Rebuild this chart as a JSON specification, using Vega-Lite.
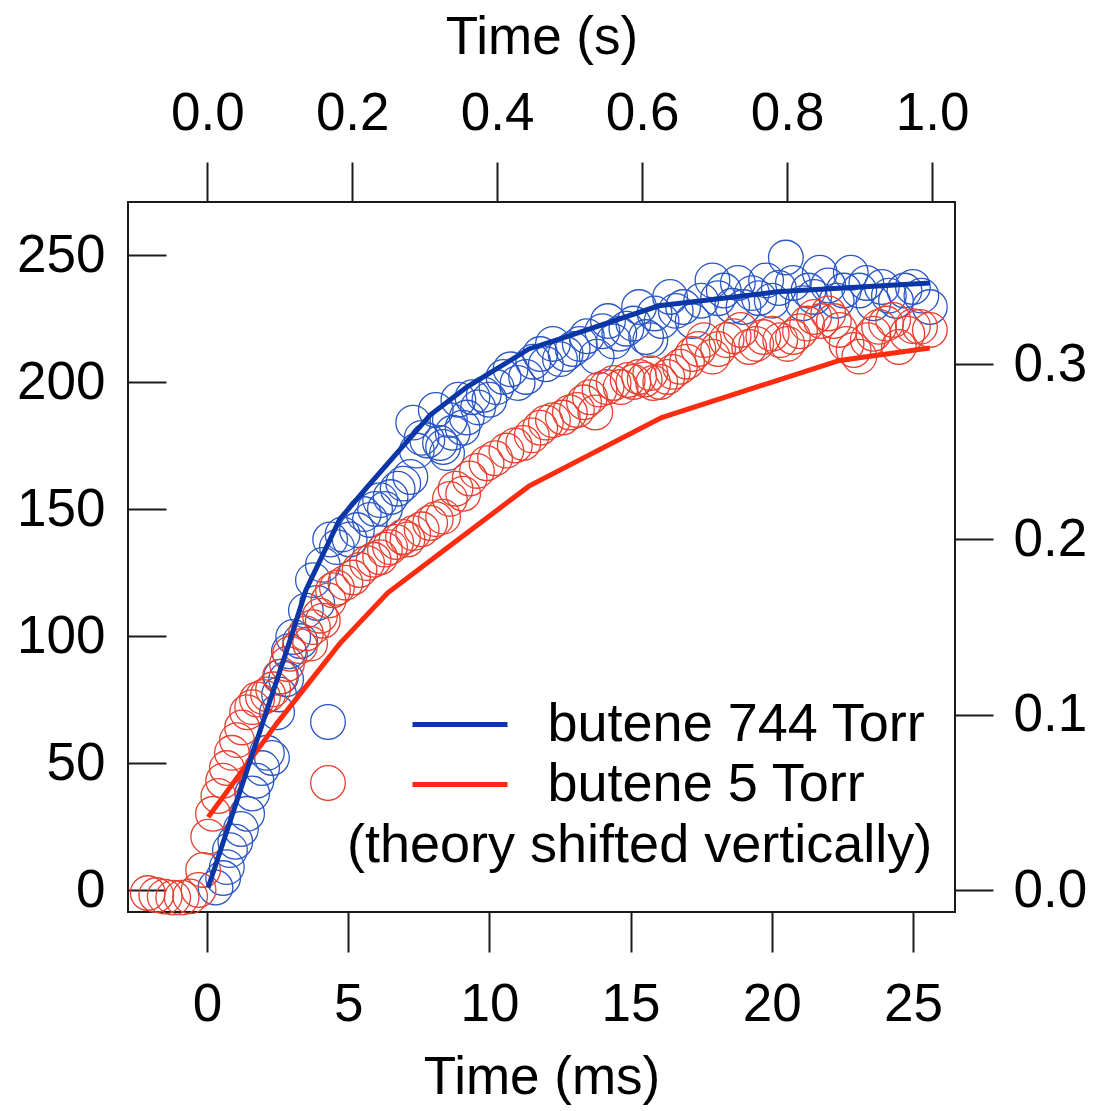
{
  "$schema": "https://vega.github.io/schema/vega-lite/v6.json",
  "width": 827,
  "height": 710,
  "autosize": {"type": "none"},
  "padding": {"left": 128, "top": 202, "right": 140, "bottom": 199},
  "background": "white",
  "config": {
    "font": "Liberation Sans",
    "view": {"stroke": "#1a1a1a", "strokeWidth": 2},
    "axis": {
      "labelFont": "Liberation Sans", "titleFont": "Liberation Sans",
      "labelFontSize": 53, "titleFontSize": 53,
      "labelColor": "#000000", "titleColor": "#000000", "titleFontWeight": "normal",
      "domain": false, "tickColor": "#1a1a1a", "tickWidth": 2,
      "grid": false, "labelFlush": false, "labelOverlap": false
    },
    "legend": {
      "labelFont": "Liberation Sans", "titleFont": "Liberation Sans",
      "labelFontSize": 54, "titleFontSize": 54, "labelColor": "#000000", "titleColor": "#000000",
      "titleFontWeight": "normal", "padding": 0, "labelLimit": 1000, "titleLimit": 1000
    }
  },
  "datasets": {
    "points": [
      {"series": "butene 744 Torr", "t": 0.3, "v": 1},
      {"series": "butene 744 Torr", "t": 0.57, "v": 4.7},
      {"series": "butene 744 Torr", "t": 0.7, "v": 9},
      {"series": "butene 744 Torr", "t": 0.81, "v": 15.7},
      {"series": "butene 744 Torr", "t": 1.0, "v": 19},
      {"series": "butene 744 Torr", "t": 1.2, "v": 24},
      {"series": "butene 744 Torr", "t": 1.42, "v": 30},
      {"series": "butene 744 Torr", "t": 1.6, "v": 38},
      {"series": "butene 744 Torr", "t": 1.75, "v": 43},
      {"series": "butene 744 Torr", "t": 1.95, "v": 48},
      {"series": "butene 744 Torr", "t": 2.12, "v": 54},
      {"series": "butene 744 Torr", "t": 2.3, "v": 52},
      {"series": "butene 744 Torr", "t": 2.48, "v": 70},
      {"series": "butene 744 Torr", "t": 2.55, "v": 77},
      {"series": "butene 744 Torr", "t": 2.62, "v": 84},
      {"series": "butene 744 Torr", "t": 2.8, "v": 83},
      {"series": "butene 744 Torr", "t": 2.9, "v": 94},
      {"series": "butene 744 Torr", "t": 3.05, "v": 99.6},
      {"series": "butene 744 Torr", "t": 3.3, "v": 98},
      {"series": "butene 744 Torr", "t": 3.5, "v": 110},
      {"series": "butene 744 Torr", "t": 3.75, "v": 122},
      {"series": "butene 744 Torr", "t": 3.9, "v": 113},
      {"series": "butene 744 Torr", "t": 4.1, "v": 128},
      {"series": "butene 744 Torr", "t": 4.36, "v": 138},
      {"series": "butene 744 Torr", "t": 4.6, "v": 135},
      {"series": "butene 744 Torr", "t": 4.8, "v": 140},
      {"series": "butene 744 Torr", "t": 5.05, "v": 138},
      {"series": "butene 744 Torr", "t": 5.31, "v": 141.7},
      {"series": "butene 744 Torr", "t": 5.55, "v": 148},
      {"series": "butene 744 Torr", "t": 5.77, "v": 145.7},
      {"series": "butene 744 Torr", "t": 5.95, "v": 150},
      {"series": "butene 744 Torr", "t": 6.13, "v": 153.5},
      {"series": "butene 744 Torr", "t": 6.3, "v": 150},
      {"series": "butene 744 Torr", "t": 6.5, "v": 154.7},
      {"series": "butene 744 Torr", "t": 6.75, "v": 158},
      {"series": "butene 744 Torr", "t": 6.95, "v": 160},
      {"series": "butene 744 Torr", "t": 7.2, "v": 162.6},
      {"series": "butene 744 Torr", "t": 7.3, "v": 184},
      {"series": "butene 744 Torr", "t": 7.43, "v": 173},
      {"series": "butene 744 Torr", "t": 7.6, "v": 178},
      {"series": "butene 744 Torr", "t": 7.8, "v": 177},
      {"series": "butene 744 Torr", "t": 8.1, "v": 189},
      {"series": "butene 744 Torr", "t": 8.25, "v": 176},
      {"series": "butene 744 Torr", "t": 8.36, "v": 174.4},
      {"series": "butene 744 Torr", "t": 8.5, "v": 172},
      {"series": "butene 744 Torr", "t": 8.6, "v": 185},
      {"series": "butene 744 Torr", "t": 8.7, "v": 180},
      {"series": "butene 744 Torr", "t": 8.9, "v": 193},
      {"series": "butene 744 Torr", "t": 9.05, "v": 182},
      {"series": "butene 744 Torr", "t": 9.2, "v": 186},
      {"series": "butene 744 Torr", "t": 9.4, "v": 194},
      {"series": "butene 744 Torr", "t": 9.6, "v": 190},
      {"series": "butene 744 Torr", "t": 9.8, "v": 195},
      {"series": "butene 744 Torr", "t": 10.0, "v": 193},
      {"series": "butene 744 Torr", "t": 10.25, "v": 198},
      {"series": "butene 744 Torr", "t": 10.5, "v": 202},
      {"series": "butene 744 Torr", "t": 10.75, "v": 205},
      {"series": "butene 744 Torr", "t": 11.0, "v": 199.6},
      {"series": "butene 744 Torr", "t": 11.3, "v": 202},
      {"series": "butene 744 Torr", "t": 11.55, "v": 208},
      {"series": "butene 744 Torr", "t": 11.8, "v": 211},
      {"series": "butene 744 Torr", "t": 12.0, "v": 207},
      {"series": "butene 744 Torr", "t": 12.25, "v": 215},
      {"series": "butene 744 Torr", "t": 12.5, "v": 209},
      {"series": "butene 744 Torr", "t": 12.7, "v": 211},
      {"series": "butene 744 Torr", "t": 12.95, "v": 213},
      {"series": "butene 744 Torr", "t": 13.2, "v": 215},
      {"series": "butene 744 Torr", "t": 13.45, "v": 218},
      {"series": "butene 744 Torr", "t": 13.8, "v": 210},
      {"series": "butene 744 Torr", "t": 14.0, "v": 220},
      {"series": "butene 744 Torr", "t": 14.2, "v": 224},
      {"series": "butene 744 Torr", "t": 14.4, "v": 216},
      {"series": "butene 744 Torr", "t": 14.6, "v": 219},
      {"series": "butene 744 Torr", "t": 14.85, "v": 221},
      {"series": "butene 744 Torr", "t": 15.1, "v": 223},
      {"series": "butene 744 Torr", "t": 15.3, "v": 229.5},
      {"series": "butene 744 Torr", "t": 15.55, "v": 217.7},
      {"series": "butene 744 Torr", "t": 15.7, "v": 216.5},
      {"series": "butene 744 Torr", "t": 15.85, "v": 227},
      {"series": "butene 744 Torr", "t": 16.1, "v": 224},
      {"series": "butene 744 Torr", "t": 16.4, "v": 233.5},
      {"series": "butene 744 Torr", "t": 16.6, "v": 228},
      {"series": "butene 744 Torr", "t": 16.86, "v": 229.5},
      {"series": "butene 744 Torr", "t": 17.2, "v": 224},
      {"series": "butene 744 Torr", "t": 17.5, "v": 232},
      {"series": "butene 744 Torr", "t": 17.9, "v": 240},
      {"series": "butene 744 Torr", "t": 18.1, "v": 233},
      {"series": "butene 744 Torr", "t": 18.3, "v": 236},
      {"series": "butene 744 Torr", "t": 18.6, "v": 230},
      {"series": "butene 744 Torr", "t": 18.8, "v": 239},
      {"series": "butene 744 Torr", "t": 19.0, "v": 229.5},
      {"series": "butene 744 Torr", "t": 19.3, "v": 235},
      {"series": "butene 744 Torr", "t": 19.55, "v": 233},
      {"series": "butene 744 Torr", "t": 19.8, "v": 240},
      {"series": "butene 744 Torr", "t": 20.0, "v": 232},
      {"series": "butene 744 Torr", "t": 20.25, "v": 237},
      {"series": "butene 744 Torr", "t": 20.5, "v": 249},
      {"series": "butene 744 Torr", "t": 20.75, "v": 239},
      {"series": "butene 744 Torr", "t": 21.1, "v": 231},
      {"series": "butene 744 Torr", "t": 21.3, "v": 236},
      {"series": "butene 744 Torr", "t": 21.5, "v": 233.5},
      {"series": "butene 744 Torr", "t": 21.7, "v": 243},
      {"series": "butene 744 Torr", "t": 22.0, "v": 238},
      {"series": "butene 744 Torr", "t": 22.3, "v": 232},
      {"series": "butene 744 Torr", "t": 22.55, "v": 236},
      {"series": "butene 744 Torr", "t": 22.8, "v": 243},
      {"series": "butene 744 Torr", "t": 23.1, "v": 236},
      {"series": "butene 744 Torr", "t": 23.35, "v": 239},
      {"series": "butene 744 Torr", "t": 23.6, "v": 231},
      {"series": "butene 744 Torr", "t": 23.9, "v": 237.4},
      {"series": "butene 744 Torr", "t": 24.15, "v": 234},
      {"series": "butene 744 Torr", "t": 24.4, "v": 232},
      {"series": "butene 744 Torr", "t": 24.7, "v": 236},
      {"series": "butene 744 Torr", "t": 25.0, "v": 237.4},
      {"series": "butene 744 Torr", "t": 25.3, "v": 234},
      {"series": "butene 744 Torr", "t": 25.6, "v": 229.5},
      {"series": "butene 5 Torr", "t": -2.1, "v": -1.2},
      {"series": "butene 5 Torr", "t": -1.8, "v": -2},
      {"series": "butene 5 Torr", "t": -1.5, "v": -2.6},
      {"series": "butene 5 Torr", "t": -1.2, "v": -3},
      {"series": "butene 5 Torr", "t": -0.9, "v": -3},
      {"series": "butene 5 Torr", "t": -0.6, "v": -2.5},
      {"series": "butene 5 Torr", "t": -0.3, "v": 0},
      {"series": "butene 5 Torr", "t": -0.14, "v": 7.9},
      {"series": "butene 5 Torr", "t": 0.04, "v": 21},
      {"series": "butene 5 Torr", "t": 0.21, "v": 30},
      {"series": "butene 5 Torr", "t": 0.4, "v": 37},
      {"series": "butene 5 Torr", "t": 0.57, "v": 43},
      {"series": "butene 5 Torr", "t": 0.7, "v": 48},
      {"series": "butene 5 Torr", "t": 0.88, "v": 54},
      {"series": "butene 5 Torr", "t": 1.06, "v": 59},
      {"series": "butene 5 Torr", "t": 1.24, "v": 64},
      {"series": "butene 5 Torr", "t": 1.42, "v": 70},
      {"series": "butene 5 Torr", "t": 1.6, "v": 72},
      {"series": "butene 5 Torr", "t": 1.77, "v": 75},
      {"series": "butene 5 Torr", "t": 1.98, "v": 76},
      {"series": "butene 5 Torr", "t": 2.16, "v": 77},
      {"series": "butene 5 Torr", "t": 2.34, "v": 79},
      {"series": "butene 5 Torr", "t": 2.58, "v": 84},
      {"series": "butene 5 Torr", "t": 2.83, "v": 89},
      {"series": "butene 5 Torr", "t": 2.94, "v": 93},
      {"series": "butene 5 Torr", "t": 3.29, "v": 96},
      {"series": "butene 5 Torr", "t": 3.5, "v": 101},
      {"series": "butene 5 Torr", "t": 3.65, "v": 97},
      {"series": "butene 5 Torr", "t": 3.75, "v": 103.5},
      {"series": "butene 5 Torr", "t": 4.0, "v": 108},
      {"series": "butene 5 Torr", "t": 4.1, "v": 106},
      {"series": "butene 5 Torr", "t": 4.3, "v": 114},
      {"series": "butene 5 Torr", "t": 4.46, "v": 118},
      {"series": "butene 5 Torr", "t": 4.6, "v": 119},
      {"series": "butene 5 Torr", "t": 4.9, "v": 121},
      {"series": "butene 5 Torr", "t": 5.17, "v": 123},
      {"series": "butene 5 Torr", "t": 5.4, "v": 126},
      {"series": "butene 5 Torr", "t": 5.67, "v": 128.7},
      {"series": "butene 5 Torr", "t": 5.9, "v": 130},
      {"series": "butene 5 Torr", "t": 6.13, "v": 131},
      {"series": "butene 5 Torr", "t": 6.3, "v": 134},
      {"series": "butene 5 Torr", "t": 6.48, "v": 135},
      {"series": "butene 5 Torr", "t": 6.7, "v": 137},
      {"series": "butene 5 Torr", "t": 6.94, "v": 139},
      {"series": "butene 5 Torr", "t": 7.1, "v": 138},
      {"series": "butene 5 Torr", "t": 7.3, "v": 140.5},
      {"series": "butene 5 Torr", "t": 7.6, "v": 142},
      {"series": "butene 5 Torr", "t": 7.9, "v": 144.5},
      {"series": "butene 5 Torr", "t": 8.1, "v": 146},
      {"series": "butene 5 Torr", "t": 8.36, "v": 147},
      {"series": "butene 5 Torr", "t": 8.6, "v": 154},
      {"series": "butene 5 Torr", "t": 8.8, "v": 158},
      {"series": "butene 5 Torr", "t": 9.07, "v": 156},
      {"series": "butene 5 Torr", "t": 9.3, "v": 162},
      {"series": "butene 5 Torr", "t": 9.56, "v": 165},
      {"series": "butene 5 Torr", "t": 9.9, "v": 168},
      {"series": "butene 5 Torr", "t": 10.2, "v": 170},
      {"series": "butene 5 Torr", "t": 10.6, "v": 173},
      {"series": "butene 5 Torr", "t": 10.9, "v": 175},
      {"series": "butene 5 Torr", "t": 11.2, "v": 176},
      {"series": "butene 5 Torr", "t": 11.5, "v": 179},
      {"series": "butene 5 Torr", "t": 11.8, "v": 182},
      {"series": "butene 5 Torr", "t": 12.0, "v": 184},
      {"series": "butene 5 Torr", "t": 12.25, "v": 185},
      {"series": "butene 5 Torr", "t": 12.6, "v": 186},
      {"series": "butene 5 Torr", "t": 12.85, "v": 188},
      {"series": "butene 5 Torr", "t": 13.1, "v": 189},
      {"series": "butene 5 Torr", "t": 13.35, "v": 192},
      {"series": "butene 5 Torr", "t": 13.56, "v": 194},
      {"series": "butene 5 Torr", "t": 13.75, "v": 188},
      {"series": "butene 5 Torr", "t": 13.9, "v": 197},
      {"series": "butene 5 Torr", "t": 14.15, "v": 198},
      {"series": "butene 5 Torr", "t": 14.4, "v": 199.6},
      {"series": "butene 5 Torr", "t": 14.65, "v": 198},
      {"series": "butene 5 Torr", "t": 14.9, "v": 200.8},
      {"series": "butene 5 Torr", "t": 15.1, "v": 200},
      {"series": "butene 5 Torr", "t": 15.3, "v": 202},
      {"series": "butene 5 Torr", "t": 15.5, "v": 201},
      {"series": "butene 5 Torr", "t": 15.7, "v": 203.5},
      {"series": "butene 5 Torr", "t": 15.8, "v": 199.6},
      {"series": "butene 5 Torr", "t": 16.05, "v": 200},
      {"series": "butene 5 Torr", "t": 16.3, "v": 202},
      {"series": "butene 5 Torr", "t": 16.5, "v": 204},
      {"series": "butene 5 Torr", "t": 16.75, "v": 206},
      {"series": "butene 5 Torr", "t": 17.0, "v": 208},
      {"series": "butene 5 Torr", "t": 17.2, "v": 211},
      {"series": "butene 5 Torr", "t": 17.4, "v": 213},
      {"series": "butene 5 Torr", "t": 17.6, "v": 216.5},
      {"series": "butene 5 Torr", "t": 17.9, "v": 210},
      {"series": "butene 5 Torr", "t": 18.1, "v": 213},
      {"series": "butene 5 Torr", "t": 18.4, "v": 216.5},
      {"series": "butene 5 Torr", "t": 18.65, "v": 218},
      {"series": "butene 5 Torr", "t": 18.9, "v": 220.5},
      {"series": "butene 5 Torr", "t": 19.2, "v": 213.8},
      {"series": "butene 5 Torr", "t": 19.45, "v": 215},
      {"series": "butene 5 Torr", "t": 19.7, "v": 217.7},
      {"series": "butene 5 Torr", "t": 20.0, "v": 219},
      {"series": "butene 5 Torr", "t": 20.3, "v": 216.5},
      {"series": "butene 5 Torr", "t": 20.55, "v": 215},
      {"series": "butene 5 Torr", "t": 20.75, "v": 217.7},
      {"series": "butene 5 Torr", "t": 21.0, "v": 220},
      {"series": "butene 5 Torr", "t": 21.25, "v": 223},
      {"series": "butene 5 Torr", "t": 21.5, "v": 225.6},
      {"series": "butene 5 Torr", "t": 21.75, "v": 224},
      {"series": "butene 5 Torr", "t": 22.0, "v": 227},
      {"series": "butene 5 Torr", "t": 22.2, "v": 224},
      {"series": "butene 5 Torr", "t": 22.4, "v": 220.5},
      {"series": "butene 5 Torr", "t": 22.65, "v": 215},
      {"series": "butene 5 Torr", "t": 22.9, "v": 212.6},
      {"series": "butene 5 Torr", "t": 23.1, "v": 210},
      {"series": "butene 5 Torr", "t": 23.4, "v": 216.5},
      {"series": "butene 5 Torr", "t": 23.6, "v": 219},
      {"series": "butene 5 Torr", "t": 23.8, "v": 221.7},
      {"series": "butene 5 Torr", "t": 24.05, "v": 223},
      {"series": "butene 5 Torr", "t": 24.3, "v": 224.4},
      {"series": "butene 5 Torr", "t": 24.5, "v": 213.8},
      {"series": "butene 5 Torr", "t": 24.8, "v": 219},
      {"series": "butene 5 Torr", "t": 25.0, "v": 222},
      {"series": "butene 5 Torr", "t": 25.25, "v": 221.7},
      {"series": "butene 5 Torr", "t": 25.6, "v": 220.5}
    ],
    "fits": [
      {"series": "butene 5 Torr", "t": 0.04, "v": 28.7},
      {"series": "butene 5 Torr", "t": 2.5, "v": 66},
      {"series": "butene 5 Torr", "t": 4.7, "v": 97},
      {"series": "butene 5 Torr", "t": 6.4, "v": 117},
      {"series": "butene 5 Torr", "t": 8.3, "v": 133},
      {"series": "butene 5 Torr", "t": 11.4, "v": 159},
      {"series": "butene 5 Torr", "t": 16.1, "v": 186},
      {"series": "butene 5 Torr", "t": 22.4, "v": 208.5},
      {"series": "butene 5 Torr", "t": 25.6, "v": 213.4},
      {"series": "butene 744 Torr", "t": 0.04, "v": 1},
      {"series": "butene 744 Torr", "t": 2.9, "v": 97},
      {"series": "butene 744 Torr", "t": 3.5, "v": 118},
      {"series": "butene 744 Torr", "t": 4.7, "v": 146},
      {"series": "butene 744 Torr", "t": 5.7, "v": 159},
      {"series": "butene 744 Torr", "t": 7.9, "v": 187},
      {"series": "butene 744 Torr", "t": 9.2, "v": 198},
      {"series": "butene 744 Torr", "t": 11.4, "v": 213},
      {"series": "butene 744 Torr", "t": 12.5, "v": 217},
      {"series": "butene 744 Torr", "t": 16.0, "v": 230},
      {"series": "butene 744 Torr", "t": 20.2, "v": 235.5},
      {"series": "butene 744 Torr", "t": 25.6, "v": 239}
    ]
  },
  "layer": [
    {
      "layer": [
        {
          "data": {"name": "points"},
          "mark": {"type": "point", "shape": "circle", "filled": false, "size": 1200, "strokeWidth": 1.3, "opacity": 1},
          "encoding": {
            "x": {"field": "t", "type": "quantitative",
              "scale": {"domain": [-2.8, 26.49], "nice": false, "zero": false},
              "axis": {"orient": "bottom", "values": [0, 5, 10, 15, 20, 25], "title": "Time (ms)", "tickSize": 40, "labelPadding": 26, "titlePadding": 20}},
            "y": {"field": "v", "type": "quantitative",
              "scale": {"domain": [-8.66, 270.87], "nice": false, "zero": false},
              "axis": {"orient": "left", "values": [0, 50, 100, 150, 200, 250], "title": null, "offset": -38, "tickSize": 38, "labelPadding": 23}},
            "color": {"field": "series", "type": "nominal", "sort": ["butene 744 Torr", "butene 5 Torr"],
              "scale": {"range": ["#2a56c6", "#e8402f"]},
              "legend": {"orient": "none", "legendX": 173, "legendY": 493, "title": null, "labelExpr": "''",
                "symbolType": "circle", "symbolSize": 1200, "symbolStrokeWidth": 1.3, "symbolFillColor": "transparent", "rowPadding": 7}}
          }
        },
        {
          "data": {"name": "fits"},
          "mark": {"type": "line", "strokeWidth": 5},
          "encoding": {
            "x": {"field": "t", "type": "quantitative"},
            "y": {"field": "v", "type": "quantitative"},
            "stroke": {"field": "series", "type": "nominal",
              "scale": {"domain": ["butene 744 Torr", "butene 5 Torr"], "range": ["#0a36a6", "#ff2b0e"]},
              "legend": {"orient": "none", "legendX": 219, "legendY": 493, "title": "(theory shifted vertically)", "titleOrient": "bottom", "titlePadding": 7,
                "symbolType": "M-1.76,0H1.76", "symbolSize": 2916, "symbolStrokeWidth": 5, "symbolOffset": 83.5, "labelOffset": 58, "rowPadding": 3}}
          }
        }
      ]
    },
    {
      "data": {"values": [{}]},
      "mark": {"type": "point", "opacity": 0},
      "encoding": {
        "x": {"datum": 0, "type": "quantitative",
          "scale": {"domain": [-0.1094, 1.0317], "nice": false, "zero": false},
          "axis": {"orient": "top", "values": [0, 0.2, 0.4, 0.6, 0.8, 1.0], "format": ".1f", "title": "Time (s)", "tickSize": 40, "labelPadding": 22, "titlePadding": 23}},
        "y": {"datum": 0, "type": "quantitative",
          "scale": {"domain": [-0.01255, 0.3925], "nice": false, "zero": false},
          "axis": {"orient": "right", "values": [0, 0.1, 0.2, 0.3], "format": ".1f", "title": null, "tickSize": 38, "labelPadding": 20}}
      }
    }
  ],
  "resolve": {"scale": {"x": "independent", "y": "independent"}}
}
